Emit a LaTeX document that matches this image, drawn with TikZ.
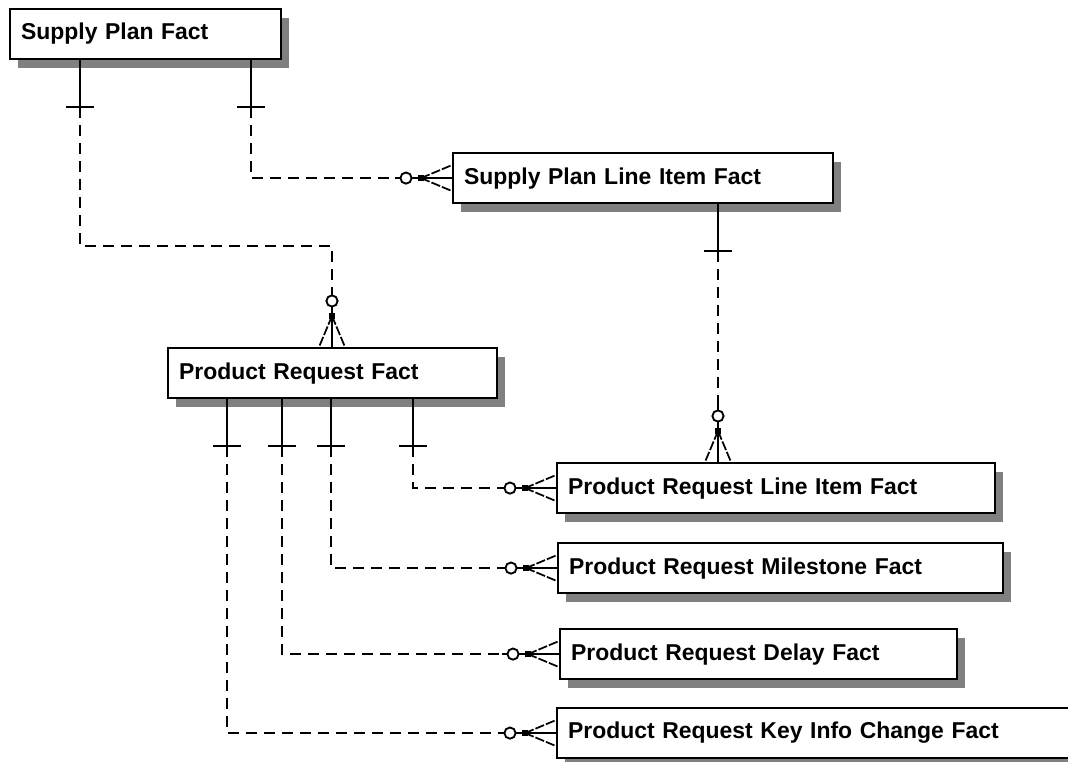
\documentclass[tikz,border=0pt]{standalone}
\usepackage{fontspec}
\newfontfamily\erfont{Liberation Sans}
\usetikzlibrary{calc,shadows}

\tikzset{
  entity/.style={draw=black, line width=1.6pt, fill=white, anchor=north west,
    minimum height=37.5pt, inner xsep=8.25pt, inner ysep=0pt, align=left,
    font=\erfont\bfseries\fontsize{17.2pt}{20pt}\selectfont,
    drop shadow={shadow xshift=6pt, shadow yshift=-6.75pt, fill=black!50, opacity=1, draw=none}},
  relline/.style={line width=1.4pt},
  reldash/.style={line width=1.4pt, dash pattern=on 8.5pt off 5pt},
  crowleg/.style={line width=1.3pt, dash pattern=on 7pt off 1.5pt},
  one bar/.pic={
    \draw[relline] (0,0) -- (0,47);
    \draw[relline] (-14,47) -- (14,47);
  },
  crow top/.pic={
    \draw[crowleg] (0,-31) -- (-13,0);
    \draw[crowleg] (0,-31) -- (13,0);
    \draw[relline] (0,-40) -- (0,0);
    \fill (-3,-34) rectangle (3,-28);
    \draw[relline, fill=white] (0,-46) circle (4.2pt);
    \draw[relline] (0,-51) -- (0,-57);
  },
  crow left/.pic={
    \draw[crowleg] (-31,0) -- (0,-13);
    \draw[crowleg] (-31,0) -- (0,13);
    \draw[relline] (-40,0) -- (0,0);
    \fill (-34,-3) rectangle (-28,3);
    \draw[relline, fill=white] (-46,0) circle (4.2pt);
    \draw[relline] (-51,0) -- (-57,0);
  },
}

\begin{document}
\begin{tikzpicture}[%
      x=0.75pt, y=-0.75pt,
      ]
      \useasboundingbox (0,0) rectangle (1068,761);
      \fill[white] (0,0) rectangle (1068,761);
      \clip (0,0) rectangle (1068,761);

      % entities
      \node[entity, text width=186.75pt] (spf) at (9,8) {Supply Plan Fact};
      \node[entity, text width=268.5pt] (splif) at (452,152) {Supply Plan Line Item Fact};
      \node[entity, text width=230.25pt] (prf) at (167,347) {Product Request Fact};
      \node[entity, text width=312pt] (prlif) at (556,462) {Product Request Line Item Fact};
      \node[entity, text width=317.25pt] (prmf) at (557,542) {Product Request Milestone Fact};
      \node[entity, text width=281.25pt] (prdf) at (559,628) {Product Request Delay Fact};
      \node[entity, text width=388.5pt] (prkicf) at (556,707) {Product Request Key Info Change Fact};

      % attach points
      \coordinate (spfa) at ($(spf.south west)+(71,0)$);
      \coordinate (spfb) at ($(spf.south west)+(242,0)$);
      \coordinate (splifa) at ($(splif.south west)+(266,0)$);
      \coordinate (prftop) at ($(prf.north west)+(165,0)$);
      \coordinate (prfa) at ($(prf.south west)+(60,0)$);
      \coordinate (prfb) at ($(prf.south west)+(115,0)$);
      \coordinate (prfc) at ($(prf.south west)+(164,0)$);
      \coordinate (prfd) at ($(prf.south west)+(246,0)$);
      \coordinate (prliftop) at ($(prlif.north west)+(162,0)$);

      % supply plan -> product request
      \pic at (spfa) {one bar};
      \pic at (prftop) {crow top};
      \draw[reldash] ($(spfa)+(0,47)$) -- ++(0,139) -| ($(prftop)+(0,-57)$);

      % supply plan -> supply plan line item
      \pic at (spfb) {one bar};
      \pic at (splif.west) {crow left};
      \draw[reldash] ($(spfb)+(0,47)$) |- ($(splif.west)+(-57,0)$);

      % supply plan line item -> product request line item
      \pic at (splifa) {one bar};
      \pic at (prliftop) {crow top};
      \draw[reldash] ($(splifa)+(0,47)$) -- ($(prliftop)+(0,-57)$);

      % product request -> children
      \pic at (prfd) {one bar};
      \pic at (prlif.west) {crow left};
      \draw[reldash] ($(prfd)+(0,47)$) |- ($(prlif.west)+(-57,0)$);

      \pic at (prfc) {one bar};
      \pic at (prmf.west) {crow left};
      \draw[reldash] ($(prfc)+(0,47)$) |- ($(prmf.west)+(-57,0)$);

      \pic at (prfb) {one bar};
      \pic at (prdf.west) {crow left};
      \draw[reldash] ($(prfb)+(0,47)$) |- ($(prdf.west)+(-57,0)$);

      \pic at (prfa) {one bar};
      \pic at (prkicf.west) {crow left};
      \draw[reldash] ($(prfa)+(0,47)$) |- ($(prkicf.west)+(-57,0)$);
\end{tikzpicture}
\end{document}
